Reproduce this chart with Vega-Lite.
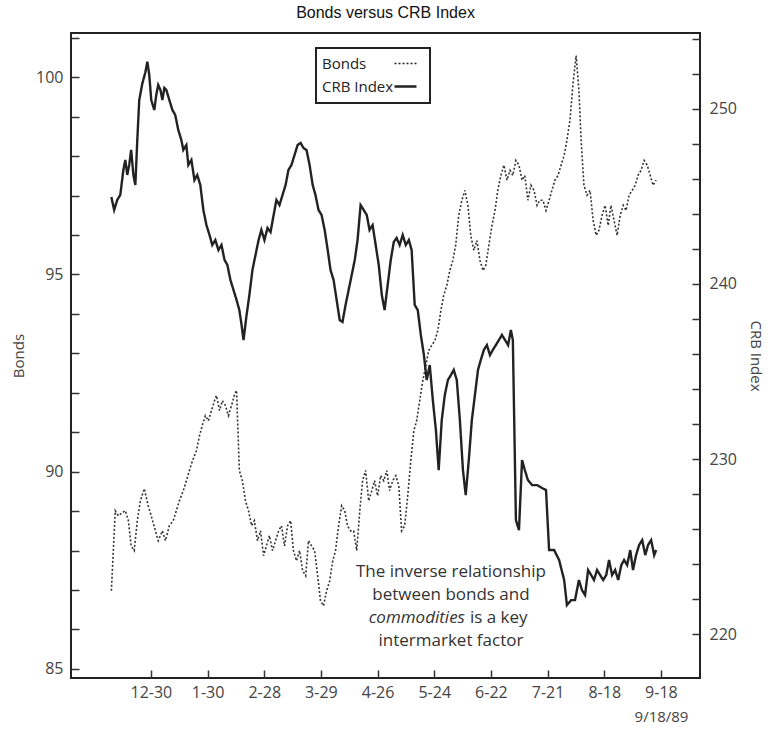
{
  "$schema": "https://vega.github.io/schema/vega-lite/v6.json",
  "width": 629,
  "height": 645,
  "autosize": {"type": "none"},
  "padding": {"left": 71, "top": 33, "right": 70, "bottom": 53},
  "background": "white",
  "title": {"text": "Bonds versus CRB Index", "font": "Liberation Sans", "fontSize": 16, "fontWeight": "normal", "color": "#111", "offset": 12, "anchor": "middle"},
  "config": {
    "view": {"stroke": "#222", "strokeWidth": 2},
    "font": "Open Sans",
    "axis": {"grid": false, "domain": false, "tickColor": "#333", "tickWidth": 1.5, "labelColor": "#444", "labelFont": "Open Sans", "labelFontSize": 16, "titleFont": "Open Sans", "titleFontSize": 15, "titleFontWeight": "normal", "titleColor": "#444"}
  },
  "data": {"values": [
    {"s":"Bonds","d":-15.4,"v":86.98},{"s":"Bonds","d":-14.0,"v":89.01},{"s":"Bonds","d":-12.9,"v":88.88},{"s":"Bonds","d":-11.5,"v":88.96},{"s":"Bonds","d":-10.4,"v":89.01},{"s":"Bonds","d":-9.3,"v":88.76},{"s":"Bonds","d":-8.3,"v":88.12},{"s":"Bonds","d":-7.2,"v":88.0},{"s":"Bonds","d":-6.1,"v":88.76},{"s":"Bonds","d":-5.0,"v":89.26},{"s":"Bonds","d":-3.6,"v":89.57},{"s":"Bonds","d":-2.2,"v":89.14},{"s":"Bonds","d":-1.1,"v":88.88},{"s":"Bonds","d":0.4,"v":88.5},{"s":"Bonds","d":1.4,"v":88.25},{"s":"Bonds","d":2.9,"v":88.5},{"s":"Bonds","d":4.0,"v":88.25},{"s":"Bonds","d":5.4,"v":88.63},{"s":"Bonds","d":6.8,"v":88.76},{"s":"Bonds","d":7.9,"v":89.01},{"s":"Bonds","d":9.0,"v":89.26},{"s":"Bonds","d":10.4,"v":89.52},{"s":"Bonds","d":11.5,"v":89.77},{"s":"Bonds","d":12.6,"v":90.03},{"s":"Bonds","d":13.7,"v":90.28},{"s":"Bonds","d":15.1,"v":90.53},{"s":"Bonds","d":16.2,"v":90.91},{"s":"Bonds","d":17.2,"v":91.17},{"s":"Bonds","d":18.3,"v":91.42},{"s":"Bonds","d":19.4,"v":91.29},{"s":"Bonds","d":20.5,"v":91.55},{"s":"Bonds","d":21.6,"v":91.8},{"s":"Bonds","d":22.3,"v":91.93},{"s":"Bonds","d":23.4,"v":91.55},{"s":"Bonds","d":24.4,"v":91.8},{"s":"Bonds","d":25.5,"v":91.68},{"s":"Bonds","d":26.6,"v":91.42},{"s":"Bonds","d":27.7,"v":91.68},{"s":"Bonds","d":28.7,"v":91.93},{"s":"Bonds","d":29.5,"v":92.06},{"s":"Bonds","d":30.5,"v":90.03},{"s":"Bonds","d":31.6,"v":89.77},{"s":"Bonds","d":32.7,"v":89.26},{"s":"Bonds","d":33.8,"v":89.01},{"s":"Bonds","d":34.9,"v":88.63},{"s":"Bonds","d":35.9,"v":88.76},{"s":"Bonds","d":37.0,"v":88.25},{"s":"Bonds","d":38.1,"v":88.5},{"s":"Bonds","d":39.2,"v":87.87},{"s":"Bonds","d":40.2,"v":88.12},{"s":"Bonds","d":41.3,"v":88.38},{"s":"Bonds","d":42.4,"v":88.0},{"s":"Bonds","d":43.5,"v":88.25},{"s":"Bonds","d":44.6,"v":88.5},{"s":"Bonds","d":45.6,"v":88.63},{"s":"Bonds","d":46.7,"v":88.12},{"s":"Bonds","d":47.8,"v":88.63},{"s":"Bonds","d":48.9,"v":88.76},{"s":"Bonds","d":49.9,"v":88.0},{"s":"Bonds","d":51.0,"v":87.74},{"s":"Bonds","d":52.1,"v":88.0},{"s":"Bonds","d":53.2,"v":87.49},{"s":"Bonds","d":54.3,"v":87.36},{"s":"Bonds","d":55.3,"v":88.25},{"s":"Bonds","d":56.4,"v":88.12},{"s":"Bonds","d":57.5,"v":88.0},{"s":"Bonds","d":58.6,"v":87.36},{"s":"Bonds","d":59.6,"v":86.73},{"s":"Bonds","d":60.7,"v":86.6},{"s":"Bonds","d":61.8,"v":86.98},{"s":"Bonds","d":62.9,"v":87.23},{"s":"Bonds","d":64.0,"v":87.74},{"s":"Bonds","d":65.0,"v":88.0},{"s":"Bonds","d":66.1,"v":88.63},{"s":"Bonds","d":67.2,"v":89.14},{"s":"Bonds","d":68.3,"v":89.01},{"s":"Bonds","d":69.3,"v":88.63},{"s":"Bonds","d":70.4,"v":88.5},{"s":"Bonds","d":71.5,"v":88.5},{"s":"Bonds","d":72.6,"v":88.0},{"s":"Bonds","d":73.7,"v":89.01},{"s":"Bonds","d":74.7,"v":89.77},{"s":"Bonds","d":75.8,"v":90.03},{"s":"Bonds","d":76.9,"v":89.26},{"s":"Bonds","d":78.0,"v":89.52},{"s":"Bonds","d":79.0,"v":89.77},{"s":"Bonds","d":80.1,"v":89.39},{"s":"Bonds","d":81.2,"v":89.9},{"s":"Bonds","d":82.3,"v":89.77},{"s":"Bonds","d":83.4,"v":90.03},{"s":"Bonds","d":84.4,"v":89.52},{"s":"Bonds","d":85.5,"v":89.77},{"s":"Bonds","d":86.6,"v":89.9},{"s":"Bonds","d":87.7,"v":89.64},{"s":"Bonds","d":88.7,"v":88.5},{"s":"Bonds","d":89.8,"v":88.63},{"s":"Bonds","d":90.9,"v":89.39},{"s":"Bonds","d":92.0,"v":90.28},{"s":"Bonds","d":93.1,"v":91.04},{"s":"Bonds","d":94.1,"v":91.29},{"s":"Bonds","d":95.2,"v":91.8},{"s":"Bonds","d":96.3,"v":92.31},{"s":"Bonds","d":97.4,"v":92.69},{"s":"Bonds","d":98.4,"v":93.07},{"s":"Bonds","d":99.5,"v":93.2},{"s":"Bonds","d":100.6,"v":93.32},{"s":"Bonds","d":101.7,"v":93.58},{"s":"Bonds","d":102.8,"v":94.09},{"s":"Bonds","d":103.8,"v":94.47},{"s":"Bonds","d":104.9,"v":94.72},{"s":"Bonds","d":106.0,"v":95.1},{"s":"Bonds","d":107.1,"v":95.36},{"s":"Bonds","d":108.1,"v":95.74},{"s":"Bonds","d":109.2,"v":96.5},{"s":"Bonds","d":110.3,"v":96.88},{"s":"Bonds","d":111.4,"v":97.13},{"s":"Bonds","d":112.5,"v":96.75},{"s":"Bonds","d":113.5,"v":95.99},{"s":"Bonds","d":114.6,"v":95.61},{"s":"Bonds","d":115.7,"v":95.86},{"s":"Bonds","d":116.8,"v":95.36},{"s":"Bonds","d":117.9,"v":95.1},{"s":"Bonds","d":118.9,"v":95.23},{"s":"Bonds","d":120.0,"v":95.74},{"s":"Bonds","d":121.1,"v":96.24},{"s":"Bonds","d":122.2,"v":96.62},{"s":"Bonds","d":123.2,"v":97.13},{"s":"Bonds","d":124.3,"v":97.51},{"s":"Bonds","d":125.4,"v":97.77},{"s":"Bonds","d":126.5,"v":97.39},{"s":"Bonds","d":127.6,"v":97.64},{"s":"Bonds","d":128.6,"v":97.51},{"s":"Bonds","d":129.7,"v":97.89},{"s":"Bonds","d":130.8,"v":97.77},{"s":"Bonds","d":131.9,"v":97.39},{"s":"Bonds","d":132.9,"v":97.51},{"s":"Bonds","d":134.0,"v":96.88},{"s":"Bonds","d":135.1,"v":97.26},{"s":"Bonds","d":136.2,"v":97.13},{"s":"Bonds","d":137.3,"v":96.75},{"s":"Bonds","d":138.3,"v":96.88},{"s":"Bonds","d":139.4,"v":96.88},{"s":"Bonds","d":140.5,"v":96.62},{"s":"Bonds","d":141.6,"v":96.88},{"s":"Bonds","d":142.6,"v":97.13},{"s":"Bonds","d":143.7,"v":97.39},{"s":"Bonds","d":144.8,"v":97.51},{"s":"Bonds","d":145.9,"v":97.77},{"s":"Bonds","d":147.0,"v":98.02},{"s":"Bonds","d":148.0,"v":98.4},{"s":"Bonds","d":149.1,"v":98.91},{"s":"Bonds","d":150.2,"v":99.85},{"s":"Bonds","d":151.3,"v":100.55},{"s":"Bonds","d":152.3,"v":99.67},{"s":"Bonds","d":153.1,"v":98.4},{"s":"Bonds","d":154.1,"v":97.26},{"s":"Bonds","d":155.2,"v":97.01},{"s":"Bonds","d":156.3,"v":97.13},{"s":"Bonds","d":157.4,"v":96.37},{"s":"Bonds","d":158.5,"v":95.99},{"s":"Bonds","d":159.5,"v":96.12},{"s":"Bonds","d":160.6,"v":96.5},{"s":"Bonds","d":161.7,"v":96.75},{"s":"Bonds","d":162.8,"v":96.24},{"s":"Bonds","d":163.8,"v":96.75},{"s":"Bonds","d":164.9,"v":96.37},{"s":"Bonds","d":166.0,"v":95.99},{"s":"Bonds","d":167.1,"v":96.5},{"s":"Bonds","d":168.2,"v":96.75},{"s":"Bonds","d":169.2,"v":96.62},{"s":"Bonds","d":170.3,"v":97.01},{"s":"Bonds","d":171.4,"v":97.13},{"s":"Bonds","d":172.5,"v":97.26},{"s":"Bonds","d":173.5,"v":97.51},{"s":"Bonds","d":174.6,"v":97.64},{"s":"Bonds","d":175.7,"v":97.89},{"s":"Bonds","d":176.8,"v":97.77},{"s":"Bonds","d":177.9,"v":97.51},{"s":"Bonds","d":178.9,"v":97.26},{"s":"Bonds","d":180.0,"v":97.39},
    {"s":"CRB Index","d":-15.4,"v":244.97},{"s":"CRB Index","d":-14.4,"v":244.23},{"s":"CRB Index","d":-13.3,"v":244.8},{"s":"CRB Index","d":-12.2,"v":245.09},{"s":"CRB Index","d":-11.1,"v":246.51},{"s":"CRB Index","d":-10.4,"v":247.09},{"s":"CRB Index","d":-9.7,"v":246.23},{"s":"CRB Index","d":-9.0,"v":246.8},{"s":"CRB Index","d":-8.3,"v":247.66},{"s":"CRB Index","d":-7.5,"v":246.23},{"s":"CRB Index","d":-6.8,"v":245.66},{"s":"CRB Index","d":-6.1,"v":248.23},{"s":"CRB Index","d":-5.4,"v":250.51},{"s":"CRB Index","d":-4.3,"v":251.45},{"s":"CRB Index","d":-3.2,"v":252.1},{"s":"CRB Index","d":-2.5,"v":252.7},{"s":"CRB Index","d":-1.8,"v":251.94},{"s":"CRB Index","d":-1.1,"v":250.51},{"s":"CRB Index","d":0.0,"v":249.94},{"s":"CRB Index","d":0.7,"v":250.8},{"s":"CRB Index","d":1.4,"v":251.37},{"s":"CRB Index","d":2.2,"v":251.09},{"s":"CRB Index","d":2.9,"v":250.51},{"s":"CRB Index","d":3.6,"v":251.2},{"s":"CRB Index","d":4.3,"v":251.09},{"s":"CRB Index","d":5.4,"v":250.51},{"s":"CRB Index","d":6.5,"v":249.94},{"s":"CRB Index","d":7.5,"v":249.66},{"s":"CRB Index","d":8.6,"v":248.8},{"s":"CRB Index","d":9.7,"v":248.23},{"s":"CRB Index","d":10.4,"v":247.66},{"s":"CRB Index","d":11.5,"v":247.94},{"s":"CRB Index","d":12.2,"v":246.8},{"s":"CRB Index","d":13.3,"v":247.09},{"s":"CRB Index","d":14.4,"v":245.94},{"s":"CRB Index","d":15.4,"v":246.23},{"s":"CRB Index","d":16.5,"v":245.66},{"s":"CRB Index","d":17.6,"v":244.23},{"s":"CRB Index","d":18.7,"v":243.37},{"s":"CRB Index","d":19.8,"v":242.8},{"s":"CRB Index","d":20.8,"v":242.23},{"s":"CRB Index","d":21.9,"v":242.51},{"s":"CRB Index","d":23.0,"v":241.94},{"s":"CRB Index","d":24.1,"v":242.23},{"s":"CRB Index","d":25.2,"v":241.37},{"s":"CRB Index","d":26.2,"v":241.09},{"s":"CRB Index","d":27.3,"v":240.23},{"s":"CRB Index","d":28.4,"v":239.66},{"s":"CRB Index","d":29.5,"v":239.09},{"s":"CRB Index","d":30.5,"v":238.51},{"s":"CRB Index","d":31.3,"v":237.66},{"s":"CRB Index","d":32.0,"v":236.8},{"s":"CRB Index","d":33.1,"v":238.23},{"s":"CRB Index","d":34.1,"v":239.37},{"s":"CRB Index","d":35.2,"v":240.8},{"s":"CRB Index","d":36.3,"v":241.66},{"s":"CRB Index","d":37.4,"v":242.51},{"s":"CRB Index","d":38.4,"v":243.09},{"s":"CRB Index","d":39.5,"v":242.51},{"s":"CRB Index","d":40.6,"v":243.2},{"s":"CRB Index","d":41.7,"v":242.97},{"s":"CRB Index","d":42.8,"v":243.94},{"s":"CRB Index","d":43.8,"v":244.8},{"s":"CRB Index","d":44.9,"v":244.51},{"s":"CRB Index","d":46.0,"v":245.09},{"s":"CRB Index","d":47.1,"v":245.66},{"s":"CRB Index","d":48.1,"v":246.51},{"s":"CRB Index","d":49.2,"v":246.8},{"s":"CRB Index","d":50.3,"v":247.37},{"s":"CRB Index","d":51.4,"v":247.94},{"s":"CRB Index","d":52.5,"v":248.06},{"s":"CRB Index","d":53.5,"v":247.77},{"s":"CRB Index","d":54.6,"v":247.66},{"s":"CRB Index","d":55.7,"v":246.8},{"s":"CRB Index","d":56.8,"v":245.66},{"s":"CRB Index","d":57.8,"v":245.09},{"s":"CRB Index","d":58.9,"v":244.23},{"s":"CRB Index","d":60.0,"v":243.94},{"s":"CRB Index","d":61.1,"v":243.09},{"s":"CRB Index","d":62.2,"v":241.94},{"s":"CRB Index","d":63.2,"v":240.8},{"s":"CRB Index","d":64.3,"v":240.23},{"s":"CRB Index","d":65.4,"v":239.09},{"s":"CRB Index","d":66.5,"v":237.94},{"s":"CRB Index","d":67.5,"v":237.83},{"s":"CRB Index","d":68.6,"v":238.8},{"s":"CRB Index","d":69.7,"v":239.66},{"s":"CRB Index","d":70.8,"v":240.51},{"s":"CRB Index","d":71.9,"v":241.37},{"s":"CRB Index","d":72.9,"v":242.51},{"s":"CRB Index","d":74.0,"v":244.51},{"s":"CRB Index","d":75.1,"v":244.23},{"s":"CRB Index","d":76.2,"v":243.94},{"s":"CRB Index","d":77.2,"v":243.09},{"s":"CRB Index","d":78.3,"v":243.37},{"s":"CRB Index","d":79.4,"v":242.23},{"s":"CRB Index","d":80.5,"v":241.09},{"s":"CRB Index","d":81.6,"v":239.37},{"s":"CRB Index","d":82.6,"v":238.51},{"s":"CRB Index","d":83.7,"v":239.94},{"s":"CRB Index","d":84.8,"v":241.37},{"s":"CRB Index","d":85.9,"v":242.4},{"s":"CRB Index","d":86.9,"v":242.63},{"s":"CRB Index","d":88.0,"v":242.23},{"s":"CRB Index","d":89.1,"v":242.8},{"s":"CRB Index","d":90.2,"v":242.23},{"s":"CRB Index","d":91.3,"v":242.51},{"s":"CRB Index","d":92.3,"v":241.94},{"s":"CRB Index","d":93.4,"v":238.8},{"s":"CRB Index","d":94.5,"v":238.51},{"s":"CRB Index","d":95.6,"v":237.09},{"s":"CRB Index","d":96.7,"v":235.94},{"s":"CRB Index","d":97.7,"v":234.51},{"s":"CRB Index","d":98.8,"v":235.37},{"s":"CRB Index","d":99.9,"v":233.37},{"s":"CRB Index","d":101.0,"v":231.66},{"s":"CRB Index","d":102.0,"v":229.37},{"s":"CRB Index","d":103.1,"v":232.23},{"s":"CRB Index","d":104.2,"v":233.66},{"s":"CRB Index","d":105.3,"v":234.51},{"s":"CRB Index","d":106.4,"v":234.8},{"s":"CRB Index","d":107.4,"v":235.09},{"s":"CRB Index","d":108.5,"v":234.51},{"s":"CRB Index","d":109.6,"v":232.23},{"s":"CRB Index","d":110.7,"v":229.37},{"s":"CRB Index","d":111.7,"v":227.94},{"s":"CRB Index","d":112.8,"v":229.94},{"s":"CRB Index","d":113.9,"v":232.23},{"s":"CRB Index","d":115.0,"v":233.66},{"s":"CRB Index","d":116.1,"v":235.09},{"s":"CRB Index","d":117.1,"v":235.66},{"s":"CRB Index","d":118.2,"v":236.23},{"s":"CRB Index","d":119.3,"v":236.51},{"s":"CRB Index","d":120.4,"v":235.94},{"s":"CRB Index","d":121.4,"v":236.23},{"s":"CRB Index","d":122.5,"v":236.51},{"s":"CRB Index","d":123.6,"v":236.8},{"s":"CRB Index","d":124.7,"v":237.09},{"s":"CRB Index","d":125.8,"v":236.8},{"s":"CRB Index","d":126.9,"v":236.51},{"s":"CRB Index","d":127.9,"v":237.37},{"s":"CRB Index","d":128.6,"v":236.8},{"s":"CRB Index","d":129.7,"v":226.51},{"s":"CRB Index","d":130.8,"v":225.94},{"s":"CRB Index","d":131.9,"v":229.94},{"s":"CRB Index","d":132.9,"v":229.37},{"s":"CRB Index","d":134.0,"v":228.8},{"s":"CRB Index","d":135.5,"v":228.51},{"s":"CRB Index","d":137.3,"v":228.51},{"s":"CRB Index","d":139.1,"v":228.34},{"s":"CRB Index","d":140.5,"v":228.23},{"s":"CRB Index","d":141.6,"v":224.8},{"s":"CRB Index","d":143.4,"v":224.8},{"s":"CRB Index","d":145.2,"v":224.23},{"s":"CRB Index","d":147.0,"v":223.09},{"s":"CRB Index","d":148.0,"v":221.66},{"s":"CRB Index","d":149.5,"v":221.94},{"s":"CRB Index","d":150.9,"v":221.94},{"s":"CRB Index","d":152.3,"v":223.09},{"s":"CRB Index","d":153.4,"v":222.51},{"s":"CRB Index","d":154.5,"v":222.23},{"s":"CRB Index","d":155.6,"v":223.66},{"s":"CRB Index","d":156.7,"v":223.37},{"s":"CRB Index","d":157.7,"v":223.09},{"s":"CRB Index","d":158.8,"v":223.66},{"s":"CRB Index","d":159.9,"v":223.37},{"s":"CRB Index","d":161.0,"v":223.09},{"s":"CRB Index","d":162.1,"v":223.37},{"s":"CRB Index","d":163.1,"v":224.23},{"s":"CRB Index","d":164.2,"v":223.37},{"s":"CRB Index","d":165.3,"v":223.66},{"s":"CRB Index","d":166.4,"v":223.09},{"s":"CRB Index","d":167.5,"v":223.94},{"s":"CRB Index","d":168.5,"v":224.23},{"s":"CRB Index","d":169.6,"v":223.94},{"s":"CRB Index","d":170.7,"v":224.8},{"s":"CRB Index","d":171.7,"v":223.66},{"s":"CRB Index","d":172.8,"v":224.51},{"s":"CRB Index","d":173.9,"v":225.09},{"s":"CRB Index","d":175.0,"v":225.37},{"s":"CRB Index","d":176.1,"v":224.51},{"s":"CRB Index","d":177.1,"v":225.09},{"s":"CRB Index","d":178.2,"v":225.37},{"s":"CRB Index","d":179.3,"v":224.51},{"s":"CRB Index","d":180.0,"v":224.8}
  ]},
  "resolve": {"scale": {"y": "independent"}},
  "layer": [
    {
      "layer": [
        {
          "transform": [{"filter": "datum.s === 'Bonds'"}],
          "mark": {"type": "line", "strokeWidth": 1.6, "color": "#333"},
          "encoding": {
            "x": {"field": "d", "type": "quantitative", "scale": {"domain": [-29.88, 195.73], "nice": false, "zero": false},
                  "axis": {"values": [-1.22, 19.11, 39.43, 59.76, 80.08, 100.41, 120.73, 141.06, 161.38, 181.71], "labelExpr": "['12-30','1-30','2-28','3-29','4-26','5-24','6-22','7-21','8-18','9-18'][round((datum.value + 1.22) / 20.325)]", "offset": -8, "tickSize": 8, "labelPadding": 6, "labelFlush": false, "title": "9/18/89", "titleX": 590, "titleY": 46, "titleAlign": "center", "titleBaseline": "middle", "titleFontSize": 15}},
            "y": {"field": "v", "type": "quantitative", "scale": {"domain": [84.77, 101.12], "nice": false, "zero": false},
                  "axis": {"orient": "left", "title": "Bonds", "values": [85, 86, 87, 88, 89, 90, 91, 92, 93, 94, 95, 96, 97, 98, 99, 100, 101], "labelExpr": "datum.value % 5 === 0 ? datum.label : ''", "offset": -8, "tickSize": 8, "labelPadding": 8, "titlePadding": 9}},
            "strokeDash": {"field": "s", "type": "nominal", "scale": {"domain": ["Bonds", "CRB Index"], "range": [[2, 2], [1, 0]]},
                  "legend": {"orient": "none", "legendX": 245, "legendY": 15, "title": null, "labelFontSize": 15, "labelFont": "Open Sans", "labelColor": "#222", "symbolType": "stroke", "symbolSize": 484, "symbolStrokeColor": "#222", "symbolOffset": 74, "labelOffset": -91, "strokeColor": "#222", "padding": 8, "rowPadding": 7,
                             "encode": {"legend": {"update": {"strokeWidth": {"value": 2}}}, "symbols": {"update": {"strokeWidth": {"signal": "datum.value === 'Bonds' ? 1.5 : 2.5"}}}}}}
          }
        },
        {"data": {"values": [{}]}, "mark": {"type": "text", "fontSize": 17, "color": "#333", "font": "Open Sans", "align": "center", "baseline": "middle"},
         "encoding": {"x": {"datum": 106.4}, "y": {"datum": 87.46}, "text": {"value": "The inverse relationship"}}},
        {"data": {"values": [{}]}, "mark": {"type": "text", "fontSize": 17, "color": "#333", "font": "Open Sans", "align": "center", "baseline": "middle"},
         "encoding": {"x": {"datum": 106.4}, "y": {"datum": 86.88}, "text": {"value": "between bonds and"}}},
        {"data": {"values": [{}]}, "mark": {"type": "text", "fontSize": 17, "color": "#333", "font": "Open Sans", "fontStyle": "italic", "align": "right", "baseline": "middle", "dx": 14},
         "encoding": {"x": {"datum": 106.4}, "y": {"datum": 86.29}, "text": {"value": "commodities"}}},
        {"data": {"values": [{}]}, "mark": {"type": "text", "fontSize": 17, "color": "#333", "font": "Open Sans", "align": "left", "baseline": "middle", "dx": 19},
         "encoding": {"x": {"datum": 106.4}, "y": {"datum": 86.29}, "text": {"value": "is a key"}}},
        {"data": {"values": [{}]}, "mark": {"type": "text", "fontSize": 17, "color": "#333", "font": "Open Sans", "align": "center", "baseline": "middle"},
         "encoding": {"x": {"datum": 106.4}, "y": {"datum": 85.71}, "text": {"value": "intermarket factor"}}}
      ]
    },
    {
      "transform": [{"filter": "datum.s === 'CRB Index'"}],
      "mark": {"type": "line", "strokeWidth": 2.4, "color": "#222"},
      "encoding": {
        "x": {"field": "d", "type": "quantitative", "scale": {"domain": [-29.88, 195.73], "nice": false, "zero": false},
              "axis": {"values": [-1.22, 19.11, 39.43, 59.76, 80.08, 100.41, 120.73, 141.06, 161.38, 181.71], "labelExpr": "['12-30','1-30','2-28','3-29','4-26','5-24','6-22','7-21','8-18','9-18'][round((datum.value + 1.22) / 20.325)]", "offset": -8, "tickSize": 8, "labelPadding": 6, "labelFlush": false, "title": "9/18/89", "titleX": 590, "titleY": 46, "titleAlign": "center", "titleBaseline": "middle", "titleFontSize": 15}},
        "y": {"field": "v", "type": "quantitative", "scale": {"domain": [217.49, 254.34], "nice": false, "zero": false},
              "axis": {"orient": "right", "title": "CRB Index", "values": [220, 222, 224, 226, 228, 230, 232, 234, 236, 238, 240, 242, 244, 246, 248, 250, 252, 254], "labelExpr": "datum.value % 10 === 0 ? datum.label : ''", "offset": -8, "tickSize": 8, "labelPadding": 9, "titlePadding": 11}},
        "strokeDash": {"field": "s", "type": "nominal", "scale": {"domain": ["Bonds", "CRB Index"], "range": [[2, 2], [1, 0]]}}
      }
    }
  ]
}
